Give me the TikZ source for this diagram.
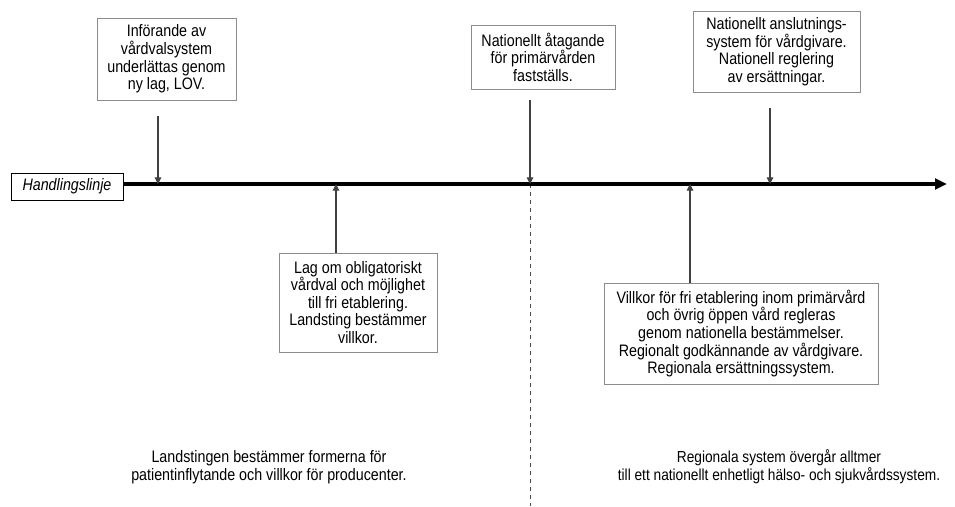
\documentclass[tikz,border=0pt]{standalone}
\usepackage{fontspec}
\setmainfont{Liberation Sans}[FakeStretch=0.86]
\usepackage{tikz}
\usetikzlibrary{arrows.meta, positioning}

\begin{document}
\begin{tikzpicture}[
    x=0.02646cm, y=-0.02646cm,
    event/.style={rectangle, draw=black!45, line width=0.6pt, align=center, inner sep=2pt, font=\fontsize{12.5}{13.2}\selectfont},
    label/.style={rectangle, draw=black, line width=0.6pt, align=center, font=\fontsize{12.5}{13.2}\selectfont\itshape},
    note/.style={align=center, font=\fontsize{12.5}{13.6}\selectfont},
    marker/.style={-{Triangle[length=5pt, width=5pt]}, draw=black!75, fill=black!75, line width=0.8pt},
]
\useasboundingbox (0,0) rectangle (955,506);

\node[label, minimum width=112*0.02646cm, minimum height=27*0.02646cm] (line) at (67,186.5) {Handlingslinje};

\node[event, minimum width=139*0.02646cm, minimum height=82*0.02646cm] (lov) at (166.5,59) {Införande av\\vårdvalsystem\\underlättas genom\\ny lag, LOV.};
\node[event, minimum width=144*0.02646cm, minimum height=64*0.02646cm] (commit) at (543,57) {Nationellt åtagande\\för primärvården\\fastställs.};
\node[event, minimum width=167*0.02646cm, minimum height=81*0.02646cm] (connect) at (776.5,51.5) {Nationellt anslutnings-\\system för vårdgivare.\\Nationell reglering\\av ersättningar.};
\node[event, minimum width=158*0.02646cm, minimum height=99*0.02646cm] (law) at (358,302.5) {Lag om obligatoriskt\\vårdval och möjlighet\\till fri etablering.\\Landsting bestämmer\\villkor.};
\node[event, minimum width=274*0.02646cm, minimum height=101*0.02646cm] (rules) at (741,333.5) {Villkor för fri etablering inom primärvård\\och övrig öppen vård regleras\\genom nationella bestämmelser.\\Regionalt godkännande av vårdgivare.\\Regionala ersättningssystem.};

\node[note] (regional) at (269,467) {Landstingen bestämmer formerna för\\patientinflytande och villkor för producenter.};
\node[note, font=\fontsize{12}{13.6}\selectfont] (national) at (779,467) {Regionala system övergår alltmer\\till ett nationellt enhetligt hälso- och sjukvårdssystem.};

% points on the time line
\coordinate (end) at (947,184);
\coordinate (t1) at (158,184);
\coordinate (t2) at (530,184);
\coordinate (t3) at (770,184);
\coordinate (t4) at (336,184);
\coordinate (t5) at (690,184);
\coordinate (s1) at (158,116);
\coordinate (s2) at (530,100);
\coordinate (s3) at (770,108);
\coordinate (bottom) at (530,506);

\draw[dashed, black!70, line width=0.6pt, dash pattern=on 3pt off 3pt] (t2) -- (bottom);
\draw[-{Triangle[length=9pt, width=8pt]}, line width=2.4pt] (line.east |- end) -- (end);

\draw[marker] (s1) -- (t1);
\draw[marker] (s2) -- (t2);
\draw[marker] (s3) -- (t3);
\draw[marker] (t4 |- law.north) -- (t4);
\draw[marker] (t5 |- rules.north) -- (t5);

\end{tikzpicture}
\end{document}
